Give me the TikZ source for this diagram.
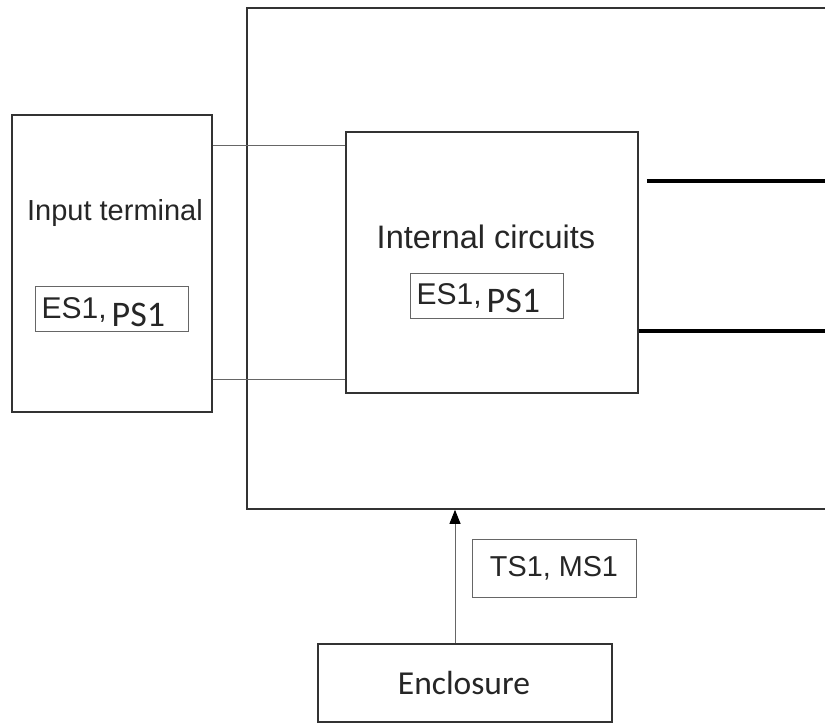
\documentclass[tikz,border=0pt]{standalone}
\usepackage{fontspec}
\setmainfont{Liberation Sans}
\newfontfamily\calib{Carlito}
\usetikzlibrary{arrows.meta, positioning, calc}

\tikzset{
  unitbox/.style={draw=black!80, line width=1.6pt, minimum width=#1, inner sep=0pt},
  tagbox/.style={draw=black!60, line width=1pt, inner sep=0pt},
  wire/.style={draw=black!60, line width=0.9pt},
  busline/.style={draw=black, line width=4pt},
}

\begin{document}
\begin{tikzpicture}[x=1pt, y=-1pt, text=black!85]
\clip (0,0) rectangle (825,727);
\fill[white] (0,0) rectangle (825,727);

% outer case, cut at the right edge
\node[unitbox=640pt, minimum height=501pt] (case) at (567,258.5) {};

% blocks
\node[unitbox=200pt, minimum height=297pt] (term) at (112,263.5) {};
\node[unitbox=292pt, minimum height=261pt] (circ) at (492,262.5) {};
\node[unitbox=294pt, minimum height=78pt]  (encl) at (465,683) {};

\node[font=\fontsize{29}{30}\selectfont] (termlbl) at (115,213) {Input terminal};
\node[font=\fontsize{32.5}{34}\selectfont] (circlbl) at (486,237) {Internal circuits};
\node[font=\calib\fontsize{33.5}{35}\selectfont] (encllbl) at (464,683) {Enclosure};

% class tags
\foreach \name/\x/\y in {termtag/111.5/309.5, circtag/486.5/296} {
  \node[tagbox, minimum width=153pt, minimum height=45pt] (\name) at (\x,\y) {};
  \node[anchor=base west, inner sep=0pt] at ($(\name.west)+(7,17)$)
    {\fontsize{30}{30}\selectfont\raisebox{8pt}{ES1,}\hspace{5pt}{\calib\fontsize{36}{36}\selectfont PS1}};
}
\node[tagbox, minimum width=164pt, minimum height=58pt] (enctag) at (554,568) {};
\node[font=\fontsize{28.8}{30}\selectfont] at (enctag) {TS1, MS1};

% terminal to circuits
\coordinate (t1) at (term.east |- 0,145);
\coordinate (t2) at (term.east |- 0,379);
\draw[wire] (t1) -- (circ.west |- t1);
\draw[wire] (t2) -- (circ.west |- t2);

% outputs
\coordinate (o1) at (830,181);
\coordinate (o2) at (830,331);
\draw[busline] ($(circ.east |- o1)+(8,0)$) -- (o1);
\draw[busline] (circ.east |- o2) -- (o2);

% enclosure to case
\draw[wire, -{Triangle[length=14pt, width=11pt, color=black]}] ([xshift=-10pt]encl.north) -- ([xshift=-10pt]encl.north |- case.south);
\end{tikzpicture}
\end{document}
